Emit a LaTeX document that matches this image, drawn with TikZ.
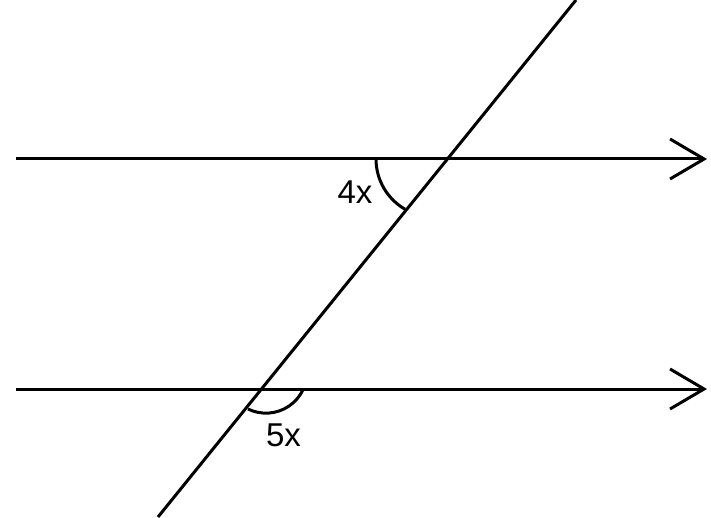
\documentclass[tikz,border=0pt]{standalone}
\usepackage{fontspec}
\setmainfont{Liberation Sans}
\usetikzlibrary{arrows.meta}
\begin{document}
\begin{tikzpicture}[x=1pt,y=1pt,
  ln/.style={line width=3pt, line cap=butt},
  arr/.style={ln, -{Straight Barb[length=34pt, width=40pt, line width=3pt]}},
  lbl/.style={font=\fontsize{33}{33}\selectfont, inner sep=0pt}]
\useasboundingbox (0,0) rectangle (711,517);
\coordinate (TL) at (16,358);
\coordinate (TR) at (707,358);
\coordinate (BL) at (16,128);
\coordinate (BR) at (707,128);
\coordinate (XT) at (576,517);
\coordinate (XB) at (158,0);
\coordinate (A1) at (376,358);
\coordinate (A2) at (248,108);
\draw[arr] (TL) -- (TR);
\draw[arr] (BL) -- (BR);
\draw[ln] (XT) -- (XB);
\draw[ln] (A1) arc[start angle=180, end angle=240, radius=58];
\draw[ln] (A2) arc[start angle=244, end angle=335.3, radius=41];
\node[lbl] (L4) at (355,325) {4x};
\node[lbl] (L5) at (283.5,82) {5x};
\end{tikzpicture}
\end{document}
